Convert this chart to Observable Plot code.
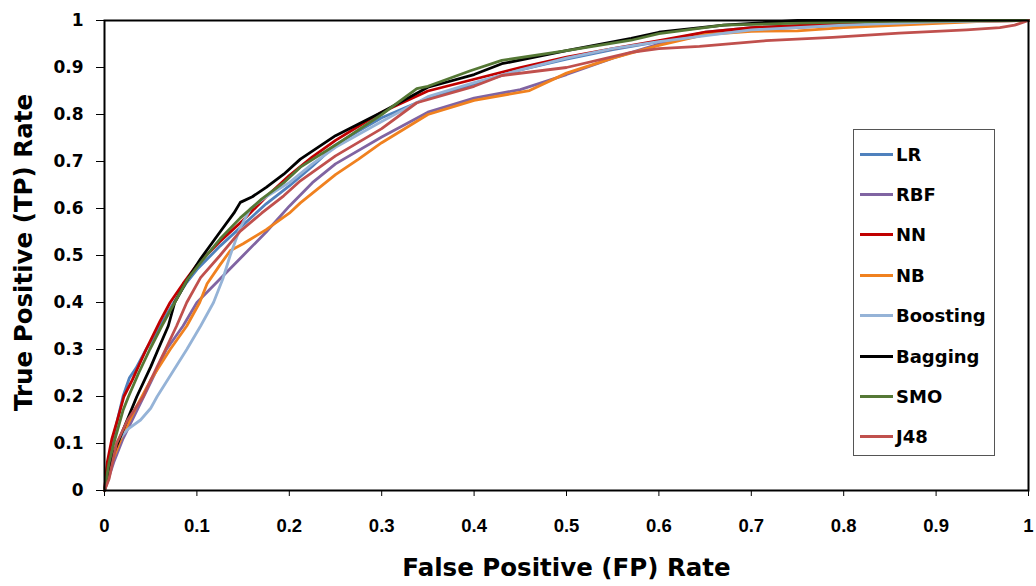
<!DOCTYPE html>
<html>
<head>
<meta charset="utf-8">
<script src="https://cdn.jsdelivr.net/npm/d3@7"></script>
<script src="https://cdn.jsdelivr.net/npm/@observablehq/plot@0.6"></script>
<style>
  html, body { margin: 0; padding: 0; background: #fff; }
  #wrap { position: relative; width: 1036px; height: 586px; }
  #wrap svg { position: absolute; left: 0; top: 0; }
  g[aria-label="y-axis tick label"] text { font: bold 17px "DejaVu Sans", sans-serif; }
  g[aria-label="x-axis tick label"] text { font: bold 18.5px "Liberation Sans", Arial, sans-serif; }
  .title text, g.title text { font: bold 24.5px "DejaVu Sans", sans-serif; }
  #legend { position: absolute; left: 853px; top: 129px; width: 142px; height: 327px;
            border: 1.3px solid #555; box-sizing: border-box; background: #fff; }
  .item { position: absolute; left: 6px; height: 20px; display: flex; align-items: center;
          font: bold 18px "DejaVu Sans", sans-serif; color: #000; }
  .item .sw { width: 33px; height: 3px; margin-right: 3px; }
</style>
</head>
<body>
<div id="wrap"></div>
<script>
const names = ["LR", "RBF", "NN", "NB", "Boosting", "Bagging", "SMO", "J48"];
const colors = ["#4F81BD", "#8064A2", "#C00000", "#F0811F", "#95B3D7", "#000000", "#557835", "#C0504D"];
const ticks = [0, 0.1, 0.2, 0.3, 0.4, 0.5, 0.6, 0.7, 0.8, 0.9, 1];
const xTitle = "False Positive (FP) Rate";
const yTitle = "True Positive (TP) Rate";

const LR = [[0,0],[0.003,0.05],[0.008,0.1],[0.014,0.15],[0.02,0.2],[0.027,0.24],[0.034,0.26],[0.045,0.3],[0.06,0.35],[0.075,0.4],[0.088,0.44],[0.1,0.47],[0.125,0.52],[0.15,0.565],[0.175,0.61],[0.2,0.648],[0.225,0.69],[0.25,0.735],[0.275,0.765],[0.3,0.793],[0.35,0.835],[0.4,0.865],[0.45,0.895],[0.5,0.918],[0.55,0.938],[0.6,0.955],[0.65,0.975],[0.7,0.985],[0.8,0.993],[0.9,0.998],[1,1]];
const RBF = [[0,0],[0.005,0.03],[0.01,0.06],[0.02,0.11],[0.035,0.17],[0.05,0.23],[0.067,0.3],[0.085,0.35],[0.1,0.4],[0.125,0.45],[0.15,0.5],[0.175,0.55],[0.2,0.605],[0.225,0.655],[0.25,0.695],[0.3,0.752],[0.35,0.805],[0.4,0.835],[0.45,0.853],[0.5,0.885],[0.55,0.92],[0.6,0.95],[0.65,0.97],[0.7,0.98],[0.8,0.99],[0.9,0.997],[1,1]];
const NN = [[0,0],[0.003,0.06],[0.008,0.11],[0.014,0.15],[0.021,0.2],[0.03,0.235],[0.045,0.3],[0.06,0.36],[0.071,0.4],[0.085,0.44],[0.1,0.48],[0.125,0.53],[0.15,0.575],[0.175,0.625],[0.2,0.67],[0.225,0.71],[0.25,0.745],[0.275,0.775],[0.3,0.805],[0.35,0.85],[0.4,0.875],[0.45,0.9],[0.5,0.922],[0.55,0.94],[0.6,0.957],[0.65,0.975],[0.7,0.985],[0.8,0.994],[0.9,0.998],[1,1]];
const NB = [[0,0],[0.005,0.04],[0.01,0.07],[0.02,0.12],[0.035,0.18],[0.05,0.235],[0.071,0.3],[0.089,0.35],[0.103,0.4],[0.111,0.44],[0.125,0.48],[0.136,0.51],[0.15,0.525],[0.175,0.555],[0.2,0.59],[0.212,0.612],[0.25,0.672],[0.275,0.705],[0.3,0.74],[0.35,0.8],[0.4,0.83],[0.46,0.851],[0.5,0.888],[0.55,0.92],[0.6,0.947],[0.65,0.97],[0.7,0.977],[0.75,0.978],[0.8,0.985],[0.86,0.99],[0.95,0.998],[1,1]];
const Boosting = [[0,0],[0.005,0.05],[0.012,0.1],[0.025,0.13],[0.039,0.15],[0.05,0.175],[0.057,0.2],[0.073,0.25],[0.089,0.3],[0.104,0.35],[0.118,0.4],[0.128,0.45],[0.136,0.5],[0.147,0.56],[0.158,0.6],[0.175,0.625],[0.2,0.655],[0.225,0.695],[0.25,0.73],[0.3,0.785],[0.35,0.838],[0.4,0.868],[0.45,0.895],[0.5,0.92],[0.55,0.94],[0.6,0.955],[0.7,0.98],[0.8,0.99],[0.9,0.997],[1,1]];
const Bagging = [[0,0],[0.005,0.05],[0.01,0.08],[0.02,0.128],[0.035,0.2],[0.05,0.263],[0.058,0.3],[0.069,0.35],[0.076,0.4],[0.09,0.45],[0.104,0.493],[0.125,0.55],[0.14,0.59],[0.147,0.613],[0.16,0.625],[0.175,0.645],[0.194,0.673],[0.212,0.705],[0.25,0.755],[0.275,0.78],[0.3,0.805],[0.35,0.858],[0.4,0.885],[0.43,0.908],[0.5,0.936],[0.57,0.962],[0.6,0.975],[0.67,0.99],[0.75,1],[1,1]];
const SMO = [[0,0],[0.005,0.06],[0.01,0.1],[0.02,0.17],[0.026,0.2],[0.037,0.25],[0.049,0.3],[0.062,0.35],[0.076,0.4],[0.09,0.45],[0.104,0.485],[0.125,0.535],[0.147,0.58],[0.17,0.62],[0.194,0.655],[0.212,0.688],[0.25,0.735],[0.3,0.8],[0.338,0.855],[0.35,0.86],[0.396,0.893],[0.43,0.915],[0.5,0.936],[0.57,0.958],[0.6,0.972],[0.67,0.99],[0.76,0.995],[0.85,0.998],[0.95,1],[1,1]];
const J48 = [[0,0],[0.005,0.025],[0.013,0.1],[0.025,0.15],[0.042,0.2],[0.05,0.235],[0.066,0.3],[0.078,0.35],[0.089,0.4],[0.104,0.453],[0.125,0.5],[0.147,0.552],[0.17,0.59],[0.194,0.627],[0.212,0.659],[0.25,0.712],[0.3,0.77],[0.338,0.825],[0.4,0.86],[0.43,0.883],[0.5,0.9],[0.57,0.932],[0.6,0.94],[0.644,0.945],[0.716,0.957],[0.788,0.964],[0.86,0.973],[0.933,0.98],[0.969,0.985],[0.985,0.99],[1,1]];

const curves = [LR, RBF, NN, NB, Boosting, Bagging, SMO, J48];
const rows = names.flatMap((name, i) => curves[i].map(([x, y]) => ({name, x, y})));
const fmt = d => String(+d.toFixed(1));

const chart = Plot.plot({
  width: 1036,
  height: 586,
  marginLeft: 104,
  marginRight: 8,
  marginTop: 20,
  marginBottom: 96,
  x: {domain: [0, 1]},
  y: {domain: [0, 1]},
  color: {domain: names, range: colors},
  marks: [
    Plot.line(rows, {x: "x", y: "y", z: "name", stroke: "name", strokeWidth: 2.8, strokeLinejoin: "round"}),
    Plot.frame({stroke: "#000", strokeWidth: 2}),
    Plot.axisX({ticks, tickFormat: fmt, tickSize: 6, tickPadding: 22, tickStrokeWidth: 2, stroke: "#000", label: null}),
    Plot.axisY({ticks, tickFormat: fmt, tickSize: 8, tickPadding: 13, tickStrokeWidth: 2, stroke: "#000", label: null}),
    Plot.text([xTitle], {frameAnchor: "bottom", dy: 78, text: d => d, textAnchor: "middle", lineAnchor: "middle", className: "title", fill: "#000"}),
    Plot.text([yTitle], {frameAnchor: "left", dx: -80, dy: -3, rotate: -90, text: d => d, textAnchor: "middle", lineAnchor: "middle", className: "title", fill: "#000"})
  ]
});

const wrap = document.getElementById("wrap");
wrap.appendChild(chart);

const legend = document.createElement("div");
legend.id = "legend";
names.forEach((n, i) => {
  const it = document.createElement("div");
  it.className = "item";
  it.style.top = (14 + i * 40.4) + "px";
  const sw = document.createElement("span");
  sw.className = "sw";
  sw.style.background = colors[i];
  const tx = document.createElement("span");
  tx.textContent = n;
  it.appendChild(sw);
  it.appendChild(tx);
  legend.appendChild(it);
});
wrap.appendChild(legend);
</script>
</body>
</html>
